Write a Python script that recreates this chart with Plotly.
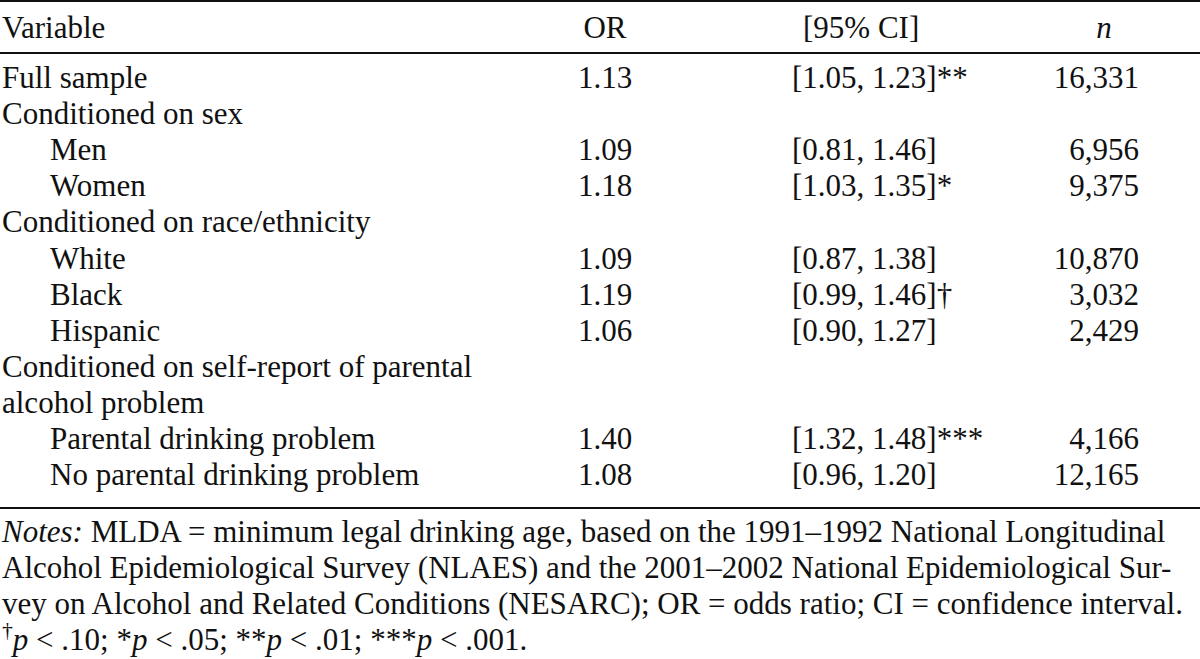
import plotly.graph_objects as go

# ---------------- data ----------------
variables = ["Full sample", "Conditioned on sex", "Men", "Women",
             "Conditioned on race/ethnicity", "White", "Black", "Hispanic",
             "Conditioned on self-report of parental", "alcohol problem",
             "Parental drinking problem", "No parental drinking problem"]
indent = [0, 0, 1, 1, 0, 1, 1, 1, 0, 0, 1, 1]
odds_ratio = [1.13, None, 1.09, 1.18, None, 1.09, 1.19, 1.06, None, None, 1.40, 1.08]
ci_low = [1.05, None, 0.81, 1.03, None, 0.87, 0.99, 0.90, None, None, 1.32, 0.96]
ci_high = [1.23, None, 1.46, 1.35, None, 1.38, 1.46, 1.27, None, None, 1.48, 1.20]
significance = ["**", "", "", "*", "", "", "†", "", "", "", "***", ""]
n_obs = [16331, None, 6956, 9375, None, 10870, 3032, 2429, None, None, 4166, 12165]
headers = ["Variable", "OR", "[95% CI]", "<i>n</i>"]
notes = [
    "<i>Notes:</i> MLDA = minimum legal drinking age, based on the 1991–1992 National Longitudinal",
    "Alcohol Epidemiological Survey (NLAES) and the 2001–2002 National Epidemiological Sur-",
    "vey on Alcohol and Related Conditions (NESARC); OR = odds ratio; CI = confidence interval.",
    "<sup>†</sup><i>p</i> &lt; .10; *<i>p</i> &lt; .05; **<i>p</i> &lt; .01; ***<i>p</i> &lt; .001.",
]

# ---------------- layout constants ----------------
W, H = 1200, 659
FONT = "Liberation Serif"
FS = 31
INK = "#111111"
HEADER_BASE = 38
ROW0_BASE = 88
ROW_H = 36.1
NOTE0_BASE = 542
NOTE_H = 36
X_VAR = 2
X_INDENT = 50
X_OR = 605
X_CI = 792
X_CIHEAD = 803
X_N = 1139
X_NHEAD = 1104
RULES = [(1, 2), (53, 2), (508, 2)]


def mid(base):
    return base - 0.25 * FS


row_y = [mid(ROW0_BASE + i * ROW_H) for i in range(len(variables))]

fig = go.Figure()


def add_text(xs, ys, texts, pos):
    fig.add_trace(go.Scatter(
        x=xs, y=ys, text=texts, mode="text", textposition=pos,
        marker=dict(size=0),
        textfont=dict(family=FONT, size=FS, color=INK),
        hoverinfo="skip", showlegend=False, cliponaxis=False))


# header
hy = mid(HEADER_BASE)
add_text([X_VAR], [hy], [headers[0]], "middle right")
add_text([X_OR], [hy], [headers[1]], "middle center")
add_text([X_CIHEAD], [hy], [headers[2]], "middle right")
add_text([X_NHEAD], [hy], [headers[3]], "middle center")

# variable column
add_text([X_INDENT if ind else X_VAR for ind in indent], row_y, variables, "middle right")

# OR column
or_idx = [i for i, v in enumerate(odds_ratio) if v is not None]
add_text([X_OR] * len(or_idx), [row_y[i] for i in or_idx],
         [f"{odds_ratio[i]:.2f}" for i in or_idx], "middle center")

# CI column
ci_idx = [i for i, v in enumerate(ci_low) if v is not None]
add_text([X_CI] * len(ci_idx), [row_y[i] for i in ci_idx],
         [f"[{ci_low[i]:.2f}, {ci_high[i]:.2f}]{significance[i]}" for i in ci_idx],
         "middle right")

# n column
n_idx = [i for i, v in enumerate(n_obs) if v is not None]
add_text([X_N] * len(n_idx), [row_y[i] for i in n_idx],
         [f"{n_obs[i]:,}" for i in n_idx], "middle left")

# notes
add_text([X_VAR] * len(notes), [mid(NOTE0_BASE + k * NOTE_H) for k in range(len(notes))],
         notes, "middle right")

for y, w in RULES:
    fig.add_shape(type="line", x0=0, x1=W, y0=y, y1=y, xref="x", yref="y",
                  line=dict(color=INK, width=w))

fig.update_layout(
    width=W, height=H, margin=dict(l=0, r=0, t=0, b=0),
    paper_bgcolor="white", plot_bgcolor="white",
    xaxis=dict(range=[0, W], visible=False, fixedrange=True),
    yaxis=dict(range=[H, 0], visible=False, fixedrange=True),
)

fig.write_html("out.html", config={"displayModeBar": False, "staticPlot": True},
               post_script="document.body.style.margin='0';document.body.style.overflow='hidden';")
